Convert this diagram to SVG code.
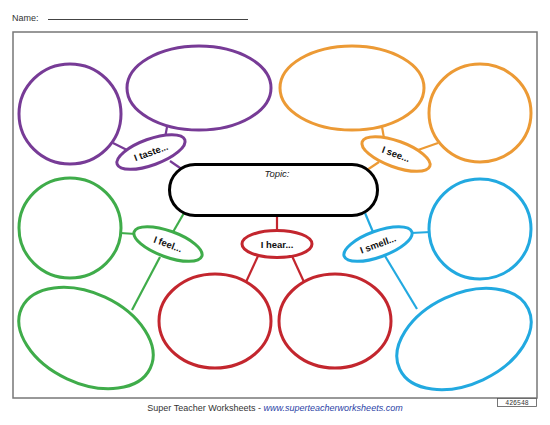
<svg xmlns="http://www.w3.org/2000/svg" width="550" height="425" viewBox="0 0 550 425">
<style>
.p{stroke:#773b96}.o{stroke:#ec9a35}.g{stroke:#3fac4a}.r{stroke:#c3262e}.b{stroke:#22a9e0}
.s{fill:#fff;stroke-width:3}
.c line{stroke-width:2.2}
.lbl{font-family:"Liberation Sans",Arial,sans-serif;font-size:9.5px;font-weight:bold;fill:#111;text-anchor:middle}
.ft{font-family:"Liberation Sans",Arial,sans-serif;font-size:9px}
</style>
<rect width="550" height="425" fill="#fff"/>
<text x="12" y="21" class="ft" font-size="10" fill="#333">Name:</text>
<line x1="48" y1="19.5" x2="248" y2="19.5" stroke="#444" stroke-width="1"/>
<rect x="13" y="32" width="524" height="366" fill="none" stroke="#777" stroke-width="1.5"/>

<g id="connectors" class="c">
<line class="p" x1="113" y1="143" x2="127" y2="150"/>
<line class="p" x1="167" y1="127" x2="165" y2="138"/>
<line class="p" x1="170" y1="161" x2="183" y2="170"/>
<line class="o" x1="382" y1="127" x2="384" y2="138"/>
<line class="o" x1="418" y1="150" x2="438" y2="143"/>
<line class="o" x1="379" y1="162" x2="367" y2="170"/>
<line class="g" x1="120" y1="233" x2="136" y2="234"/>
<line class="g" x1="184" y1="213" x2="173" y2="232"/>
<line class="g" x1="160" y1="257" x2="132" y2="310"/>
<line class="r" x1="277" y1="214" x2="277" y2="231"/>
<line class="r" x1="258" y1="256" x2="246" y2="282"/>
<line class="r" x1="292" y1="256" x2="304" y2="282"/>
<line class="b" x1="365" y1="213" x2="373" y2="232"/>
<line class="b" x1="411" y1="233" x2="431" y2="232"/>
<line class="b" x1="385" y1="256" x2="417" y2="309"/>
</g>

<g id="topic">
<rect x="169.5" y="164.5" width="208" height="51" rx="25.5" fill="#fff" stroke="#000" stroke-width="3"/>
<text x="277" y="177" font-family="'Liberation Sans',Arial,sans-serif" font-size="9.5" font-style="italic" fill="#222" text-anchor="middle">Topic:</text>
</g>

<g id="taste-left"><ellipse class="s p" cx="70" cy="114" rx="51" ry="50"/></g>
<g id="taste-top"><ellipse class="s p" cx="199" cy="88" rx="72" ry="42"/></g>
<g id="taste"><ellipse class="s p" cx="151" cy="152" rx="36" ry="13" transform="rotate(-20 151 152)"/><text class="lbl" x="151" y="155.5" transform="rotate(-20 151 152)">I taste...</text></g>

<g id="see-top"><ellipse class="s o" cx="352" cy="88" rx="72" ry="42"/></g>
<g id="see-right"><ellipse class="s o" cx="480" cy="113" rx="51" ry="49"/></g>
<g id="see"><ellipse class="s o" cx="396" cy="154" rx="36" ry="13" transform="rotate(20 396 154)"/><text class="lbl" x="396" y="157.5" transform="rotate(20 396 154)">I see...</text></g>

<g id="feel-left"><ellipse class="s g" cx="70" cy="228" rx="51" ry="50"/></g>
<g id="feel-bottom"><ellipse class="s g" cx="86" cy="338" rx="71" ry="45" transform="rotate(25 86 338)"/></g>
<g id="feel"><ellipse class="s g" cx="168" cy="244" rx="36" ry="13" transform="rotate(20 168 244)"/><text class="lbl" x="168" y="247.5" transform="rotate(20 168 244)">I feel...</text></g>

<g id="hear-left"><ellipse class="s r" cx="215" cy="321" rx="56" ry="47"/></g>
<g id="hear-right"><ellipse class="s r" cx="335" cy="321" rx="56" ry="47"/></g>
<g id="hear"><ellipse class="s r" cx="277" cy="244" rx="35" ry="13.5"/><text class="lbl" x="277" y="247.5">I hear...</text></g>

<g id="smell-right"><ellipse class="s b" cx="480" cy="229" rx="51" ry="50"/></g>
<g id="smell-bottom"><ellipse class="s b" cx="464" cy="339" rx="71" ry="45" transform="rotate(-25 464 339)"/></g>
<g id="smell"><ellipse class="s b" cx="378" cy="244" rx="36" ry="13" transform="rotate(-20 378 244)"/><text class="lbl" x="378" y="247.5" transform="rotate(-20 378 244)">I smell...</text></g>

<text x="275" y="411" class="ft" text-anchor="middle" fill="#333">Super Teacher Worksheets - <tspan fill="#2b3fa6" font-style="italic">www.superteacherworksheets.com</tspan></text>
<rect x="497.5" y="398.5" width="39" height="8" fill="#fff" stroke="#555" stroke-width="0.8"/>
<text x="517" y="405" font-family="'Liberation Mono',monospace" font-size="6.5" fill="#333" text-anchor="middle">426548</text>
</svg>
